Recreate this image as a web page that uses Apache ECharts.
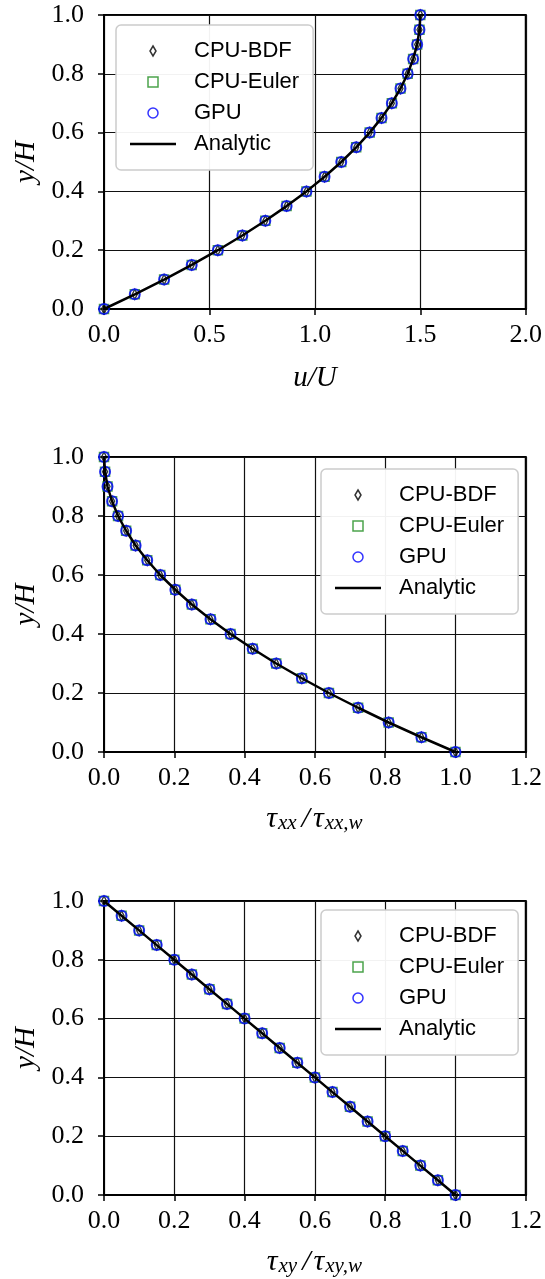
<!DOCTYPE html>
<html>
<head>
<meta charset="utf-8">
<script src="https://cdn.jsdelivr.net/npm/echarts@6/dist/echarts.min.js"></script>
<style>
  html, body { margin: 0; padding: 0; background: #fff; }
  #chart { width: 545px; height: 1279px; }
</style>
</head>
<body>
<div id="chart"></div>
<script>
  // y/H positions of the sampled points (same in all three panels)
  var yH = [0.00, 0.05, 0.10, 0.15, 0.20, 0.25, 0.30, 0.35, 0.40, 0.45, 0.50,
            0.55, 0.60, 0.65, 0.70, 0.75, 0.80, 0.85, 0.90, 0.95, 1.00];
  // panel 1: u/U
  var uU = [0.000, 0.146, 0.285, 0.416, 0.540, 0.656, 0.765, 0.866, 0.960, 1.046, 1.125,
            1.196, 1.260, 1.316, 1.365, 1.406, 1.440, 1.466, 1.485, 1.496, 1.500];
  // panel 2: tau_xx / tau_xx,w
  var tauXX = [1.000, 0.903, 0.810, 0.723, 0.640, 0.563, 0.490, 0.423, 0.360, 0.303, 0.250,
               0.203, 0.160, 0.123, 0.090, 0.063, 0.040, 0.023, 0.010, 0.003, 0.000];
  // panel 3: tau_xy / tau_xy,w
  var tauXY = [1.00, 0.95, 0.90, 0.85, 0.80, 0.75, 0.70, 0.65, 0.60, 0.55, 0.50,
               0.45, 0.40, 0.35, 0.30, 0.25, 0.20, 0.15, 0.10, 0.05, 0.00];

  var xMax = [2.0, 1.2, 1.2];
  var xStep = [0.5, 0.2, 0.2];

  var chart = echarts.init(document.getElementById('chart'));

  var serif = 'Liberation Serif';
  var sans = 'Liberation Sans';
  var gridTops = [15, 457, 901];
  var gridHeights = [294, 295, 294];
  var legendPos = [{ left: 116, top: 25 }, { left: 321, top: 469 }, { left: 321, top: 910 }];

  function pairs(xs) {
    return xs.map(function (x, i) { return [x, yH[i]]; });
  }
  var panels = [pairs(uU), pairs(tauXX), pairs(tauXY)];

  var nameStyle = {
    fontFamily: serif, fontStyle: 'italic', fontSize: 29, color: '#000'
  };
  var tauRich = {
    t: { fontFamily: serif, fontStyle: 'italic', fontSize: 30, lineHeight: 30, verticalAlign: 'top', color: '#000' },
    sl: { fontFamily: serif, fontStyle: 'italic', fontSize: 30, lineHeight: 30, verticalAlign: 'top', padding: [0, 3, 0, 4], color: '#000' },
    s: { fontFamily: serif, fontStyle: 'italic', fontSize: 21, lineHeight: 21, padding: [12, 1, 0, 1], verticalAlign: 'bottom', color: '#000' }
  };
  var xNames = ['u/U', '{t|τ}{s|xx}{sl|/}{t|τ}{s|xx,w}', '{t|τ}{s|xy}{sl|/}{t|τ}{s|xy,w}'];

  var legendData = [
    'CPU-BDF', 'CPU-Euler', 'GPU',
    { name: 'Analytic', icon: 'path://M0,0L46,0L46,2.6L0,2.6Z', itemStyle: { color: '#000', borderWidth: 0 } }
  ];

  var grid = [], xAxis = [], yAxis = [], series = [], legend = [];
  for (var p = 0; p < 3; p++) {
    grid.push({
      left: 104, width: 425, top: gridTops[p], height: gridHeights[p],
      show: true, borderColor: '#000', borderWidth: 2, backgroundColor: '#fff'
    });
    xAxis.push({
      gridIndex: p, type: 'value', min: 0, max: xMax[p], interval: xStep[p],
      name: xNames[p], nameLocation: 'middle', nameGap: p === 0 ? 55 : 52,
      nameTextStyle: p === 0 ? nameStyle : { rich: tauRich },
      axisLine: { show: true, onZero: false, lineStyle: { color: '#000', width: 2 } },
      axisTick: { show: true, length: 6, lineStyle: { color: '#000', width: 1.5 } },
      axisLabel: {
        margin: 13, fontFamily: serif, fontSize: 26, color: '#000',
        formatter: function (v) { return v.toFixed(1); }
      },
      splitLine: { show: true, lineStyle: { color: '#111', width: 1.2 } }
    });
    yAxis.push({
      gridIndex: p, type: 'value', min: 0, max: 1, interval: 0.2,
      name: 'y/H', nameLocation: 'middle', nameGap: 58, nameTextStyle: nameStyle,
      axisLine: { show: true, onZero: false, lineStyle: { color: '#000', width: 2 } },
      axisTick: { show: true, length: 6, lineStyle: { color: '#000', width: 1.5 } },
      axisLabel: {
        margin: 20, fontFamily: serif, fontSize: 26, color: '#000',
        formatter: function (v) { return v.toFixed(1); }
      },
      splitLine: { show: true, lineStyle: { color: '#111', width: 1.2 } }
    });

    series.push({
      name: 'CPU-BDF', type: 'scatter', xAxisIndex: p, yAxisIndex: p,
      symbol: 'path://M0,-4L2.4,0L0,4L-2.4,0Z', symbolSize: [5, 10],
      itemStyle: { color: 'rgba(0,0,0,0)', borderColor: '#000', borderWidth: 1.5 },
      data: panels[p], z: 2
    });
    series.push({
      name: 'CPU-Euler', type: 'scatter', xAxisIndex: p, yAxisIndex: p,
      symbol: 'path://M0,0L1,0L1,1L0,1Z', symbolSize: 9,
      itemStyle: { color: 'rgba(0,0,0,0)', borderColor: '#1e8c1e', borderWidth: 1.5 },
      data: panels[p], z: 2
    });
    series.push({
      name: 'GPU', type: 'scatter', xAxisIndex: p, yAxisIndex: p,
      symbol: 'circle', symbolSize: 10,
      itemStyle: { color: 'rgba(0,0,0,0)', borderColor: '#0000ff', borderWidth: 2 },
      data: panels[p], z: 2
    });
    series.push({
      name: 'Analytic', type: 'line', xAxisIndex: p, yAxisIndex: p,
      symbol: 'none', showSymbol: false, smooth: false,
      lineStyle: { color: '#000', width: 2.5 }, itemStyle: { color: '#000' },
      data: panels[p], z: 3
    });

    legend.push({
      left: legendPos[p].left, top: legendPos[p].top,
      orient: 'vertical', data: legendData,
      itemWidth: 46, itemHeight: 10, itemGap: 9,
      padding: [15, 14, 15, 14],
      backgroundColor: 'rgba(255,255,255,0.95)',
      borderColor: '#cccccc', borderWidth: 1.5, borderRadius: 5,
      selectedMode: false,
      itemStyle: { borderWidth: 1.5 },
      textStyle: { fontFamily: sans, fontSize: 22, color: '#000', lineHeight: 22, padding: [0, 0, 0, 13] }
    });
  }

  chart.setOption({
    animation: false,
    backgroundColor: '#fff',
    grid: grid,
    xAxis: xAxis,
    yAxis: yAxis,
    legend: legend,
    series: series
  });
</script>
</body>
</html>
